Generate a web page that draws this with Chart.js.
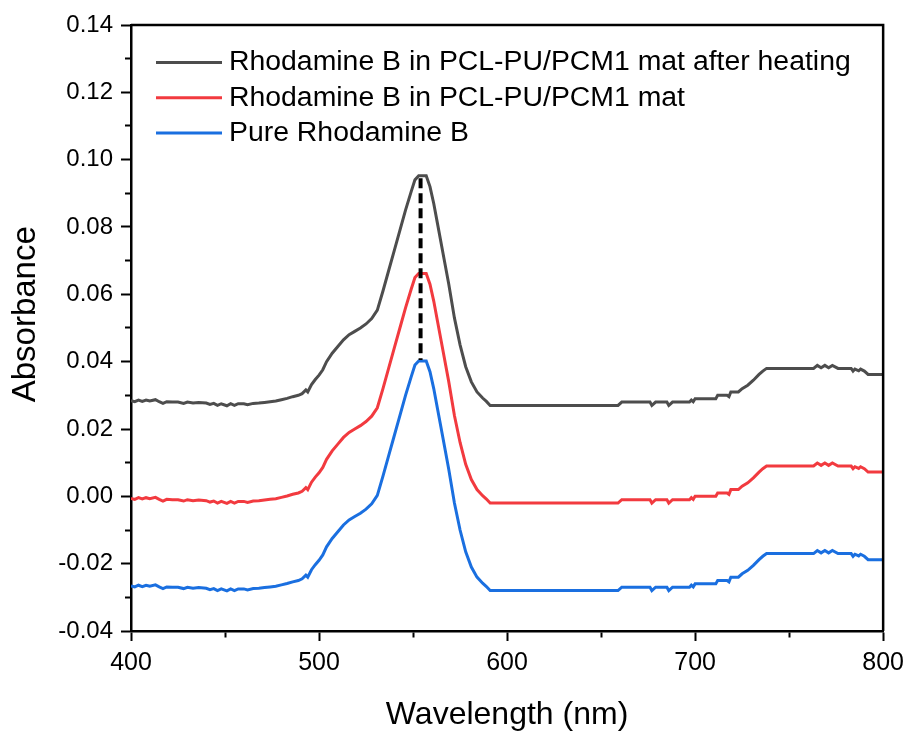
<!DOCTYPE html>
<html>
<head>
<meta charset="utf-8">
<script src="https://cdn.jsdelivr.net/npm/chart.js@4.4.1/dist/chart.umd.min.js"></script>
<style>
  body { margin: 0; background: #fff; }
  #wrap { width: 911px; height: 736px; }
</style>
</head>
<body>
<div id="wrap"><canvas id="uvChart" width="911" height="736"></canvas></div>
<script>
// wavelength (nm) sample points shared by all three spectra
const wavelength = [
  400, 402, 404, 406, 408, 410, 413, 415, 417, 419, 422, 425, 428, 430, 433, 436,
  440, 442, 444, 446, 448, 451, 453, 455, 457, 460, 462, 465, 468, 471, 474, 477,
  480, 483, 486, 489, 491, 493, 494, 496, 498, 500, 502, 504, 507, 510, 513, 516,
  519, 522, 525, 528, 531, 534, 537, 540, 543, 546, 549, 551, 553, 557, 559, 561,
  563, 566, 569, 572, 575, 578, 581, 584, 587, 589, 591, 600, 620, 640, 659, 661,
  676, 677, 679, 685, 686, 688, 697, 698, 699, 700, 711, 712, 717, 718, 719, 723,
  725, 728, 731, 734, 736, 738, 763, 765, 767, 769, 771, 773, 776, 783, 784, 785,
  787, 788, 790, 792, 800
];

// Rhodamine B in PCL-PU/PCM1 mat after heating
const heatedMat = [
  0.0284, 0.0281, 0.0286, 0.0282, 0.0286, 0.0283, 0.0287, 0.0281, 0.0276, 0.0281, 0.0280, 0.0280, 0.0276, 0.0280, 0.0277, 0.0279,
  0.0277, 0.0273, 0.0276, 0.0270, 0.0275, 0.0269, 0.0275, 0.0270, 0.0275, 0.0275, 0.0272, 0.0276, 0.0277, 0.0279, 0.0281, 0.0283,
  0.0287, 0.0291, 0.0296, 0.0300, 0.0305, 0.0316, 0.0310, 0.0332, 0.0347, 0.0360, 0.0376, 0.0400, 0.0425, 0.0445, 0.0465, 0.0480,
  0.0490, 0.0500, 0.0512, 0.0528, 0.0553, 0.0610, 0.0670, 0.0730, 0.0790, 0.0850, 0.0905, 0.0940, 0.0952, 0.0952, 0.0920, 0.0870,
  0.0810, 0.0720, 0.0630, 0.0530, 0.0450, 0.0385, 0.0340, 0.0310, 0.0292, 0.0282, 0.0270, 0.0270, 0.0270, 0.0270, 0.0270, 0.0280,
  0.0280, 0.0270, 0.0280, 0.0280, 0.0270, 0.0280, 0.0280, 0.0286, 0.0281, 0.0290, 0.0290, 0.0300, 0.0300, 0.0296, 0.0310, 0.0310,
  0.0320, 0.0330, 0.0345, 0.0362, 0.0372, 0.0380, 0.0380, 0.0389, 0.0382, 0.0389, 0.0382, 0.0389, 0.0380, 0.0380, 0.0372, 0.0378,
  0.0373, 0.0378, 0.0372, 0.0362, 0.0362
];

// Rhodamine B in PCL-PU/PCM1 mat
const mat = [
  -0.0006, -0.0009, -0.0004, -0.0008, -0.0004, -0.0007, -0.0003, -0.0009, -0.0014, -0.0009, -0.0010, -0.0010, -0.0014, -0.0010, -0.0013, -0.0011,
  -0.0013, -0.0017, -0.0014, -0.0020, -0.0015, -0.0021, -0.0015, -0.0020, -0.0015, -0.0015, -0.0018, -0.0014, -0.0013, -0.0011, -0.0009, -0.0007,
  -0.0003, 0.0001, 0.0006, 0.0010, 0.0015, 0.0026, 0.0020, 0.0042, 0.0057, 0.0070, 0.0086, 0.0110, 0.0135, 0.0155, 0.0175, 0.0190,
  0.0200, 0.0210, 0.0222, 0.0238, 0.0263, 0.0320, 0.0380, 0.0440, 0.0500, 0.0560, 0.0615, 0.0650, 0.0662, 0.0662, 0.0630, 0.0580,
  0.0520, 0.0430, 0.0340, 0.0240, 0.0160, 0.0095, 0.0050, 0.0020, 0.0002, -0.0008, -0.0020, -0.0020, -0.0020, -0.0020, -0.0020, -0.0010,
  -0.0010, -0.0020, -0.0010, -0.0010, -0.0020, -0.0010, -0.0010, -0.0004, -0.0009, 0.0000, 0.0000, 0.0010, 0.0010, 0.0006, 0.0020, 0.0020,
  0.0030, 0.0040, 0.0055, 0.0072, 0.0082, 0.0090, 0.0090, 0.0099, 0.0092, 0.0099, 0.0092, 0.0099, 0.0090, 0.0090, 0.0082, 0.0088,
  0.0083, 0.0088, 0.0082, 0.0072, 0.0072
];

// Pure Rhodamine B
const pure = [
  -0.0266, -0.0269, -0.0264, -0.0268, -0.0264, -0.0267, -0.0263, -0.0269, -0.0274, -0.0269, -0.0270, -0.0270, -0.0274, -0.0270, -0.0273, -0.0271,
  -0.0273, -0.0277, -0.0274, -0.0280, -0.0275, -0.0281, -0.0275, -0.0280, -0.0275, -0.0275, -0.0278, -0.0274, -0.0273, -0.0271, -0.0269, -0.0267,
  -0.0263, -0.0259, -0.0254, -0.0250, -0.0245, -0.0234, -0.0240, -0.0218, -0.0203, -0.0190, -0.0174, -0.0150, -0.0125, -0.0105, -0.0085, -0.0070,
  -0.0060, -0.0050, -0.0038, -0.0022, 0.0003, 0.0060, 0.0120, 0.0180, 0.0240, 0.0300, 0.0355, 0.0390, 0.0402, 0.0402, 0.0370, 0.0320,
  0.0260, 0.0170, 0.0080, -0.0020, -0.0100, -0.0165, -0.0210, -0.0240, -0.0258, -0.0268, -0.0280, -0.0280, -0.0280, -0.0280, -0.0280, -0.0270,
  -0.0270, -0.0280, -0.0270, -0.0270, -0.0280, -0.0270, -0.0270, -0.0264, -0.0269, -0.0260, -0.0260, -0.0250, -0.0250, -0.0254, -0.0240, -0.0240,
  -0.0230, -0.0220, -0.0205, -0.0188, -0.0178, -0.0170, -0.0170, -0.0161, -0.0168, -0.0161, -0.0168, -0.0161, -0.0170, -0.0170, -0.0178, -0.0172,
  -0.0177, -0.0172, -0.0178, -0.0188, -0.0188
];

// dashed marker joining the three maxima
const peakX = [554, 554];
const peakY = [0.0945, 0.0405];

const labels = [
  "Rhodamine B in PCL-PU/PCM1 mat after heating",
  "Rhodamine B in PCL-PU/PCM1 mat",
  "Pure Rhodamine B"
];
const colors = ["#4d4d4d", "#f23a3f", "#1a6fe0"];

const FONT = 'Arial, "Liberation Sans", sans-serif';

function toPoints(xs, ys) {
  return xs.map((x, i) => ({ x: x, y: ys[i] }));
}

// full frame around the plot plus the legend in the top-left corner
const framePlugin = {
  id: "frameAndLegend",
  afterDraw(chart) {
    const ctx = chart.ctx;
    const area = chart.chartArea;
    ctx.save();
    ctx.strokeStyle = "#000";
    ctx.lineWidth = 2.5;
    ctx.beginPath();
    ctx.moveTo(area.left, area.top);
    ctx.lineTo(area.right, area.top);
    ctx.lineTo(area.right, area.bottom);
    ctx.stroke();

    const items = chart.data.datasets.filter(d => d.label);
    ctx.font = "28.4px " + FONT;
    ctx.textBaseline = "middle";
    ctx.textAlign = "left";
    items.forEach((ds, i) => {
      const y = area.top + 37.5 + i * 35.3;
      ctx.strokeStyle = ds.borderColor;
      ctx.lineWidth = 3;
      ctx.beginPath();
      ctx.moveTo(area.left + 25, y);
      ctx.lineTo(area.left + 91, y);
      ctx.stroke();
      ctx.fillStyle = "#000";
      ctx.fillText(ds.label, area.left + 98, y);
    });
    ctx.restore();
  }
};

const series = [heatedMat, mat, pure];
const datasets = series.map((vals, i) => ({
  label: labels[i],
  data: toPoints(wavelength, vals),
  borderColor: colors[i],
  borderWidth: 3,
  pointRadius: 0,
  tension: 0,
  order: i + 1
}));
datasets.push({
  label: "",
  data: toPoints(peakX, peakY),
  borderColor: "#000",
  borderWidth: 4,
  borderDash: [10, 5],
  pointRadius: 0,
  order: 0
});

new Chart(document.getElementById("uvChart"), {
  type: "line",
  data: { datasets: datasets },
  options: {
    responsive: false,
    animation: false,
    layout: { padding: { top: 25, right: 26, left: 0, bottom: 0 } },
    plugins: {
      legend: { display: false },
      tooltip: { enabled: false }
    },
    scales: {
      x: {
        type: "linear",
        min: 400,
        max: 800,
        afterFit(scale) { scale.height = 105; },
        border: { display: true, color: "#000", width: 2.5 },
        grid: {
          drawOnChartArea: false,
          drawTicks: true,
          tickLength: 10,
          tickWidth: 2,
          tickColor: "#000",
          tickBorderDash: ctx => (ctx.tick && ctx.tick.value % 100 !== 0) ? [5, 30] : []
        },
        ticks: {
          stepSize: 50,
          autoSkip: false,
          maxRotation: 0,
          padding: 7,
          color: "#000",
          font: { family: FONT, size: 25 },
          callback: v => (v % 100 === 0 ? String(v) : "")
        },
        title: {
          display: true,
          text: "Wavelength (nm)",
          color: "#000",
          font: { family: FONT, size: 32 },
          padding: { top: 0, bottom: 2 }
        }
      },
      y: {
        min: -0.04,
        max: 0.14,
        afterFit(scale) { scale.width = 131; },
        border: { display: true, color: "#000", width: 2.5 },
        grid: {
          drawOnChartArea: false,
          drawTicks: true,
          tickLength: 10,
          tickWidth: 2,
          tickColor: "#000",
          tickBorderDash: ctx => (ctx.index % 2 === 1) ? [0, 4, 30, 0] : []
        },
        ticks: {
          stepSize: 0.01,
          autoSkip: false,
          padding: 8,
          color: "#000",
          font: { family: FONT, size: 24 },
          callback: (v, i) => {
            if (i % 2 !== 0) return "";
            return Math.abs(v) < 1e-9 ? "0.00" : v.toFixed(2);
          }
        },
        title: {
          display: true,
          text: "   Absorbance",
          color: "#000",
          font: { family: FONT, size: 33 },
          padding: { top: 6, bottom: 0 }
        }
      }
    }
  },
  plugins: [framePlugin]
});
</script>
</body>
</html>
